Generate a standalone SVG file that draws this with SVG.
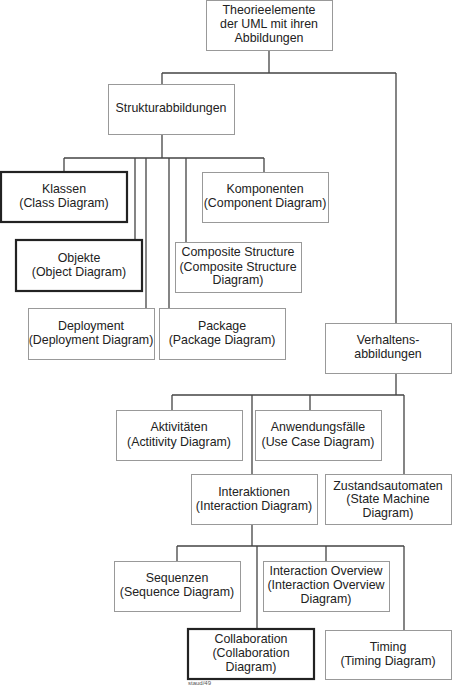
<svg xmlns="http://www.w3.org/2000/svg" width="452" height="685" viewBox="0 0 452 685">
<style>
.b{fill:#fff;stroke:#999;stroke-width:1}
.t{fill:#fff;stroke:#222;stroke-width:2.2}
.c{fill:none;stroke:#444;stroke-width:1.3}
text{font-family:"Liberation Sans",Arial,sans-serif;font-size:12.4px;fill:#222;text-anchor:middle}
.s{font-size:6px;text-anchor:start;fill:#555}
</style>
<rect width="452" height="685" fill="#fff"/>
<g id="connectors">
<path class="c" d="M269,50V73M162,73H396M162,73V84M396,73V323"/>
<path class="c" d="M162,134V158M64,158H264M64,158V172M135,158V240M146,158V308M169,158V308M186,158V242M264,158V172"/>
<path class="c" d="M396,373V395M172,395H404M172,395V410M252,395V474M310,395V410M404,395V474"/>
<path class="c" d="M252,525V546M177,546H404M177,546V561M257,546V628M326,546V561M404,546V630"/>
</g>
<g id="root"><rect class="b" x="206.5" y="0.5" width="126" height="50"/><text x="269" y="14">Theorieelemente</text><text x="269" y="28">der UML mit ihren</text><text x="269" y="41.5">Abbildungen</text></g>
<g id="struktur"><rect class="b" x="108.5" y="84.5" width="126" height="50"/><text x="171" y="112">Strukturabbildungen</text></g>
<g id="klassen"><rect class="t" x="1" y="172" width="126" height="50"/><text x="64" y="193">Klassen</text><text x="64" y="207">(Class Diagram)</text></g>
<g id="komponenten"><rect class="b" x="202.5" y="172.5" width="126" height="50"/><text x="265" y="193">Komponenten</text><text x="265" y="207">(Component Diagram)</text></g>
<g id="objekte"><rect class="t" x="16" y="240" width="126" height="51"/><text x="79" y="262">Objekte</text><text x="79" y="276">(Object Diagram)</text></g>
<g id="composite"><rect class="b" x="175.5" y="242.5" width="126" height="50"/><text x="238" y="256">Composite Structure</text><text x="238" y="271">(Composite Structure</text><text x="238" y="284">Diagram)</text></g>
<g id="deployment"><rect class="b" x="28.5" y="308.5" width="126" height="51"/><text x="91" y="330">Deployment</text><text x="91" y="344">(Deployment Diagram)</text></g>
<g id="package"><rect class="b" x="159.5" y="308.5" width="126" height="51"/><text x="222" y="330">Package</text><text x="222" y="344">(Package Diagram)</text></g>
<g id="verhaltens"><rect class="b" x="325.5" y="323.5" width="126" height="50"/><text x="388" y="344">Verhaltens-</text><text x="388" y="358">abbildungen</text></g>
<g id="aktivitaeten"><rect class="b" x="116.5" y="410.5" width="126" height="50"/><text x="179" y="431">Aktivitäten</text><text x="179" y="446">(Actitivity Diagram)</text></g>
<g id="anwendungsfaelle"><rect class="b" x="255.5" y="410.5" width="126" height="50"/><text x="318" y="431">Anwendungsfälle</text><text x="318" y="446">(Use Case Diagram)</text></g>
<g id="interaktionen"><rect class="b" x="191.5" y="474.5" width="126" height="50"/><text x="254" y="496">Interaktionen</text><text x="254" y="510">(Interaction Diagram)</text></g>
<g id="zustand"><rect class="b" x="325.5" y="474.5" width="126" height="50"/><text x="388" y="490">Zustandsautomaten</text><text x="388" y="503">(State Machine</text><text x="388" y="517">Diagram)</text></g>
<g id="sequenzen"><rect class="b" x="114.5" y="561.5" width="126" height="50"/><text x="177" y="582">Sequenzen</text><text x="177" y="596">(Sequence Diagram)</text></g>
<g id="overview"><rect class="b" x="263.5" y="561.5" width="126" height="50"/><text x="326" y="575">Interaction Overview</text><text x="326" y="589">(Interaction Overview</text><text x="326" y="603">Diagram)</text></g>
<g id="collaboration"><rect class="t" x="188" y="629" width="126" height="50"/><text x="251" y="643">Collaboration</text><text x="251" y="657">(Collaboration</text><text x="251" y="671">Diagram)</text></g>
<g id="timing"><rect class="b" x="325.5" y="630.5" width="126" height="49"/><text x="388" y="651">Timing</text><text x="388" y="665">(Timing Diagram)</text></g>
<text class="s" x="188" y="685">staud/49</text>
</svg>
